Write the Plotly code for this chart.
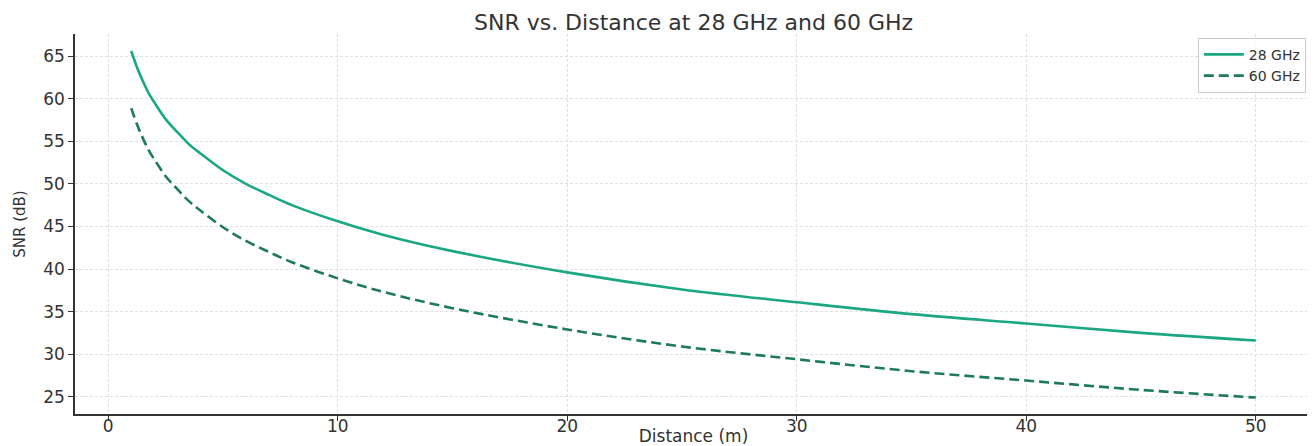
import plotly.graph_objects as go

distance_m = [1, 1.25, 1.5, 1.75, 2, 2.5, 3, 3.5, 4, 5, 6, 7, 8, 10, 12, 15, 20, 25, 30, 35, 40, 45, 50]
snr_28ghz = [65.6, 63.7, 62.1, 60.7, 59.6, 57.6, 56.1, 54.7, 53.6, 51.6, 50.0, 48.7, 47.5, 45.6, 44.0,
             42.1, 39.6, 37.6, 36.1, 34.7, 33.6, 32.5, 31.6]
snr_60ghz = [58.9, 57.0, 55.4, 54.0, 52.9, 50.9, 49.4, 48.0, 46.9, 44.9, 43.3, 42.0, 40.8, 38.9, 37.3,
             35.4, 32.9, 30.9, 29.4, 28.0, 26.9, 25.8, 24.9]
x_ticks = [0, 10, 20, 30, 40, 50]
y_ticks = [25, 30, 35, 40, 45, 50, 55, 60, 65]

FONT = "DejaVu Sans"
# the page body has an 8px margin, so the figure is sized to fit the 1315x446 window
W, H = 1307, 438

fig = go.Figure()
fig.add_trace(go.Scatter(x=distance_m, y=snr_28ghz, mode="lines", name="28 GHz",
                         line=dict(color="#1ba784", width=2.6, shape="spline")))
fig.add_trace(go.Scatter(x=distance_m, y=snr_60ghz, mode="lines", name="60 GHz",
                         line=dict(color="#1d7a5f", width=2.6, dash="10px,5px", shape="spline")))

axis_common = dict(showline=True, linecolor="#333333", linewidth=1.5, ticks="outside",
                   ticklen=5, tickcolor="#333333", showgrid=True, gridcolor="#e0e0e0",
                   griddash="3px,2px", gridwidth=1, zeroline=False, mirror=False,
                   automargin=False,
                   tickfont=dict(family=FONT, size=17, color="#333333"))

fig.update_layout(
    width=W, height=H,
    margin=dict(l=67, r=3, t=26, b=32),
    paper_bgcolor="white", plot_bgcolor="white",
    title=dict(text="SNR vs. Distance at 28 GHz and 60 GHz", x=0.5, xanchor="center",
               xref="paper", y=1 - 14 / H, yref="container", yanchor="middle",
               automargin=False,
               font=dict(family=FONT, size=22, color="#333333")),
    xaxis=dict(range=[-1.45, 52.45], tickvals=x_ticks, ticklabelstandoff=-9,
               title=dict(text="Distance (m)", standoff=4,
                          font=dict(family=FONT, size=17, color="#333333")),
               **axis_common),
    yaxis=dict(range=[22.97, 67.6], tickvals=y_ticks,
               title=dict(text="SNR (dB)", standoff=14,
                          font=dict(family=FONT, size=15, color="#333333")),
               **axis_common),
    legend=dict(x=0.995, y=0.99, xanchor="right", yanchor="top",
                bgcolor="rgba(255,255,255,0.8)", bordercolor="#cccccc", borderwidth=1,
                font=dict(family=FONT, size=14, color="#333333"),
                tracegroupgap=0, itemwidth=40),
    showlegend=True,
)

fig.write_html("out.html")
